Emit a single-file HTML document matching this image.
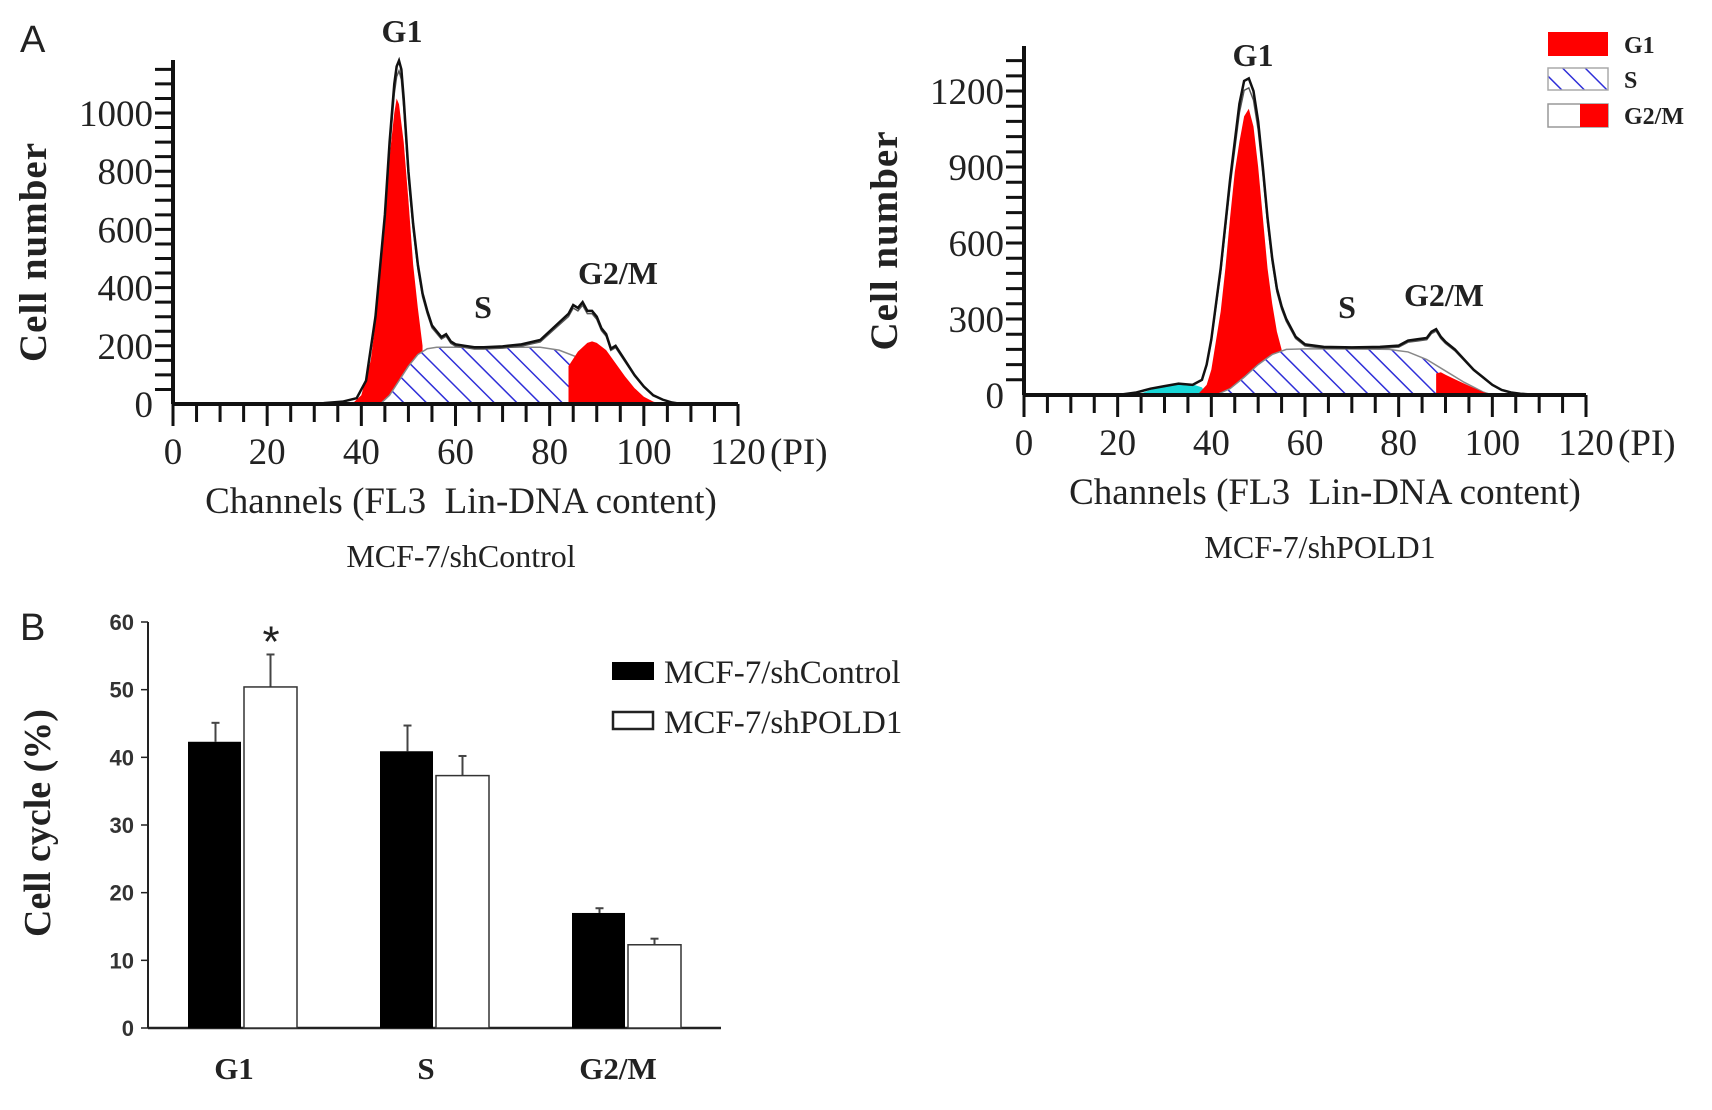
<!DOCTYPE html>
<html><head><meta charset="utf-8"><style>
html,body{margin:0;padding:0;background:#fff;}
svg{display:block;}
text{font-family:"Liberation Serif",serif;fill:#222;}
</style></head><body>
<svg id="fig" width="1712" height="1110" viewBox="0 0 1712 1110">
<defs>
<pattern id="hatch" patternUnits="userSpaceOnUse" width="16" height="16" patternTransform="rotate(-45)">
<rect width="16" height="16" fill="#fff"/>
<line x1="0" y1="0" x2="0" y2="16" stroke="#2f2fd8" stroke-width="3"/>
</pattern>
</defs>
<g id="panelA1"></g>
<g id="panelA2"></g>
<g id="panelB"></g>
<text x="20" y="52" style="font-family:'Liberation Sans',sans-serif;font-size:38px">A</text>
<text x="20" y="640" style="font-family:'Liberation Sans',sans-serif;font-size:38px">B</text>
</svg>
<script>
// ---- Histogram data (channel, cell number) ----
const ctrlTotalX = [28,32,36,39,41,43,45,46,47,47.5,48,48.5,49,50,51,52,53,54,55,56,57,58,59,60,62,64,66,70,74,78,80,82,84,85,86,87,88,89,90,91,92,93,94,96,98,100,102,104,106,108];
const ctrlTotalY = [0,3,8,20,80,300,650,900,1100,1160,1180,1150,1050,800,620,480,380,320,270,250,230,240,215,205,200,195,195,198,205,220,250,280,310,340,330,350,320,320,300,260,240,190,200,150,100,60,30,15,5,0];
const ctrlG1X = [38,40,42,43,44,45,46,47,47.5,48,49,50,51,52,53];
const ctrlG1Y = [0,30,150,280,450,650,850,1000,1050,1030,900,700,480,330,200];
const ctrlSX = [44,46,48,50,52,54,56,60,70,78,82,86,90,94,98,100];
const ctrlSY = [0,30,80,130,170,190,195,195,195,195,185,160,110,60,15,0];
const ctrlG2X = [84,86,88,89,90,92,94,96,98,100,102,104];
const ctrlG2Y = [130,180,210,215,210,185,140,95,55,25,8,0];
const ctrlCyX = [28,31,34,37,39];
const ctrlCyY = [0,4,6,5,0];

const poldTotalX = [20,24,27,30,33,36,38,39,40,42,44,46,47,48,49,50,51,52,53,54,55,56,58,60,64,70,76,80,82,84,86,87,88,89,90,92,94,96,98,100,102,104,106,110];
const poldTotalY = [0,10,25,35,45,40,60,120,220,500,850,1150,1240,1250,1200,1080,900,700,540,420,350,300,230,200,190,188,190,195,215,220,225,250,260,230,210,180,140,100,70,40,20,10,5,0];
const poldG1X = [37,39,40,42,43,44,45,46,47,48,49,50,51,52,53,54,55];
const poldG1Y = [0,40,100,330,500,700,880,1000,1100,1130,1060,900,700,500,360,250,180];
const poldSX = [41,44,47,50,53,56,60,70,78,82,86,90,94,98,100];
const poldSY = [0,25,70,120,160,180,182,182,180,170,140,95,50,12,0];
const poldG2X = [88,89,90,92,94,96,98,100];
const poldG2Y = [85,90,80,62,45,28,12,0];
const poldCyX = [24,27,30,33,36,38,39];
const poldCyY = [0,20,35,45,42,30,0];

// ---- Bar chart data ----
const categories = ["G1","S","G2/M"];
const controlValues = [42.3,40.9,17.0];
const controlErrors = [2.8,3.8,0.7];
const poldValues = [50.4,37.3,12.3];
const poldErrors = [4.8,2.9,0.9];
const barTicks = [0,10,20,30,40,50,60];

const NS="http://www.w3.org/2000/svg";
function mk(parent,tag,attrs,txt){const e=document.createElementNS(NS,tag);for(const k in attrs)e.setAttribute(k,attrs[k]);if(txt!==undefined)e.textContent=txt;parent.appendChild(e);return e;}
function pathFrom(xs,ys,sx,sy,closeBase){
  let d="";
  if(closeBase) d+="M"+sx(xs[0])+","+sy(0)+" L";
  else d+="M";
  d+=xs.map((x,i)=>sx(x)+","+sy(ys[i])).join(" L");
  if(closeBase) d+=" L"+sx(xs[xs.length-1])+","+sy(0)+" Z";
  return d;
}

function histogram(g,cfg,D){
  const sx=v=>cfg.x0+(v/120)*(cfg.x120-cfg.x0);
  const sy=v=>cfg.y0-v*cfg.pxPerUnit;
  const cy=mk(g,"path",{d:pathFrom(D.cyX,D.cyY,sx,sy,true),fill:"#18d8d8"});
  
  
  const g1=mk(g,"path",{d:pathFrom(D.g1X,D.g1Y,sx,sy,true),fill:"#ff0000"});
  
  
  const s=mk(g,"path",{d:pathFrom(D.sX,D.sY,sx,sy,true),fill:"url(#hatch)",stroke:"#888","stroke-width":1.5});
  
  
  const g2=mk(g,"path",{d:pathFrom(D.g2X,D.g2Y,sx,sy,true),fill:"#ff0000"});
  
  
  const fit=mk(g,"path",{d:pathFrom(D.tX,D.tY.map(v=>v*0.97),sx,sy,false),fill:"none",stroke:"#555","stroke-width":1.5});
  
  
  const tot=mk(g,"path",{d:pathFrom(D.tX,D.tY,sx,sy,false),fill:"none",stroke:"#111","stroke-width":2.5});
  
  
  mk(g,"line",{x1:cfg.x0,y1:cfg.y0,x2:cfg.x120,y2:cfg.y0,stroke:"#111","stroke-width":4});
  mk(g,"line",{x1:cfg.x0,y1:cfg.y0,x2:cfg.x0,y2:cfg.yTop,stroke:"#111","stroke-width":4});
  for(let v=0;v<=120;v+=5){mk(g,"line",{x1:sx(v),y1:cfg.y0,x2:sx(v),y2:cfg.y0+(v%20===0?22:18),stroke:"#111","stroke-width":3});}
  for(let v=cfg.minor;sy(v)>=cfg.yTop;v+=cfg.minor){mk(g,"line",{x1:cfg.x0-18,y1:sy(v),x2:cfg.x0,y2:sy(v),stroke:"#111","stroke-width":3});}
  for(let v=0;v<=120;v+=20){const t=mk(g,"text",{x:sx(v),y:cfg.y0+60,"text-anchor":"middle","font-size":37},String(v));}
  mk(g,"text",{x:cfg.x120+32,y:cfg.y0+60,"font-size":37},"(PI)");
  cfg.yTicks.forEach(v=>{const t=mk(g,"text",{x:cfg.x0-20,y:sy(v)+13,"text-anchor":"end","font-size":37},String(v));});
  const yt=mk(g,"text",{x:0,y:0,"text-anchor":"middle","font-size":39,"font-weight":"bold",transform:`translate(${cfg.x0-127},${(cfg.y0+cfg.yTop)/2+20}) rotate(-90)`,"letter-spacing":"1"},"Cell number");
  
  const xt=mk(g,"text",{x:cfg.xtc,y:cfg.y0+109,"text-anchor":"middle","font-size":37},"Channels (FL3\u00a0\u00a0Lin-DNA content)");
  
  const st=mk(g,"text",{x:cfg.stc,y:cfg.y0+163,"text-anchor":"middle","font-size":32},cfg.sub);
  
  cfg.peaks.forEach(p=>{const t=mk(g,"text",{x:p[1],y:p[2],"text-anchor":"middle","font-size":32,"font-weight":"bold"},p[0]);});
}

histogram(document.getElementById("panelA1"),
 {x0:173,x120:738,y0:404,yTop:60,pxPerUnit:0.291,minor:50,yTicks:[0,200,400,600,800,1000],sub:"MCF-7/shControl",xtc:461,stc:461,
  peaks:[["G1",402,42],["S",483,318],["G2/M",618,284]]},
 {tX:ctrlTotalX,tY:ctrlTotalY,g1X:ctrlG1X,g1Y:ctrlG1Y,sX:ctrlSX,sY:ctrlSY,g2X:ctrlG2X,g2Y:ctrlG2Y,cyX:ctrlCyX,cyY:ctrlCyY});
histogram(document.getElementById("panelA2"),
 {x0:1024,x120:1586,y0:395,yTop:46,pxPerUnit:0.2533,minor:60,yTicks:[0,300,600,900,1200],sub:"MCF-7/shPOLD1",xtc:1325,stc:1320,
  peaks:[["G1",1253,66],["S",1347,318],["G2/M",1444,306]]},
 {tX:poldTotalX,tY:poldTotalY,g1X:poldG1X,g1Y:poldG1Y,sX:poldSX,sY:poldSY,g2X:poldG2X,g2Y:poldG2Y,cyX:poldCyX,cyY:poldCyY});

(function(){
  const g=document.getElementById("panelA2");
  const l=mk(g,"g",{});
  
  
  mk(l,"rect",{x:1548,y:32,width:60,height:24,fill:"#ff0000"});
  mk(l,"text",{x:1624,y:53,"font-size":24,"font-weight":"bold"},"G1");
  mk(l,"rect",{x:1548,y:68,width:60,height:22,fill:"url(#hatch)",stroke:"#aaa","stroke-width":1.5});
  mk(l,"text",{x:1624,y:88,"font-size":24,"font-weight":"bold"},"S");
  mk(l,"rect",{x:1548,y:104,width:60,height:23,fill:"#fff",stroke:"#999","stroke-width":1.5});
  mk(l,"rect",{x:1580,y:104,width:28,height:23,fill:"#ff0000"});
  mk(l,"text",{x:1624,y:124,"font-size":24,"font-weight":"bold"},"G2/M");
})();

(function(){
  const g=document.getElementById("panelB");
  const x0=148,x1=721,y0=1028,yTop=622;
  const sy=v=>y0-v*(y0-yTop)/60;
  const groupCenter=i=>243+i*192;
  const bw=53;
  mk(g,"line",{x1:x0,y1:y0,x2:x1,y2:y0,stroke:"#222","stroke-width":2.5});
  mk(g,"line",{x1:x0,y1:y0,x2:x0,y2:yTop,stroke:"#222","stroke-width":2});
  barTicks.forEach(v=>{
    mk(g,"line",{x1:x0-7,y1:sy(v),x2:x0,y2:sy(v),stroke:"#222","stroke-width":1.5});
    const t=mk(g,"text",{x:x0-14,y:sy(v)+8,"text-anchor":"end","font-size":22,"font-weight":"bold",style:"font-family:'Liberation Sans Narrow','Liberation Sans',sans-serif;fill:#333"},String(v));
    
  });
  categories.forEach((c,i)=>{
    const cx=groupCenter(i);
    [[controlValues[i],controlErrors[i],cx-bw/2-1],[poldValues[i],poldErrors[i],cx+bw/2+1]].forEach(e=>{
      mk(g,"line",{x1:e[2],y1:sy(e[0]),x2:e[2],y2:sy(e[0]+e[1]),stroke:"#444","stroke-width":2});
      mk(g,"line",{x1:e[2]-4,y1:sy(e[0]+e[1]),x2:e[2]+4,y2:sy(e[0]+e[1]),stroke:"#444","stroke-width":2});
    });
    const b1=mk(g,"rect",{x:cx-bw-2,y:sy(controlValues[i]),width:bw,height:y0-sy(controlValues[i]),fill:"#000"});
    
    
    const b2=mk(g,"rect",{x:cx+1,y:sy(poldValues[i]),width:bw,height:y0-sy(poldValues[i]),fill:"#fff",stroke:"#333","stroke-width":1.5});
    
    
    const t=mk(g,"text",{x:cx-9,y:1079,"text-anchor":"middle","font-size":31,"font-weight":"bold"},c);
    
  });
  const star=mk(g,"text",{x:groupCenter(0)+28,y:sy(poldValues[0]+poldErrors[0])+2,"text-anchor":"middle","font-size":44,style:"font-family:'Liberation Sans',sans-serif"},"*");
  
  const yt=mk(g,"text",{x:0,y:0,"text-anchor":"middle","font-size":38,"font-weight":"bold",transform:`translate(50,823) rotate(-90)`},"Cell cycle (%)");
  
  const l=mk(g,"g",{});
  
  
  mk(l,"rect",{x:612,y:662,width:42,height:18,fill:"#000"});
  mk(l,"text",{x:664,y:683,"font-size":33},"MCF-7/shControl");
  mk(l,"rect",{x:613,y:712,width:40,height:17,fill:"#fff",stroke:"#222","stroke-width":2.5});
  mk(l,"text",{x:664,y:733,"font-size":33},"MCF-7/shPOLD1");
})();
</script>
</body></html>
